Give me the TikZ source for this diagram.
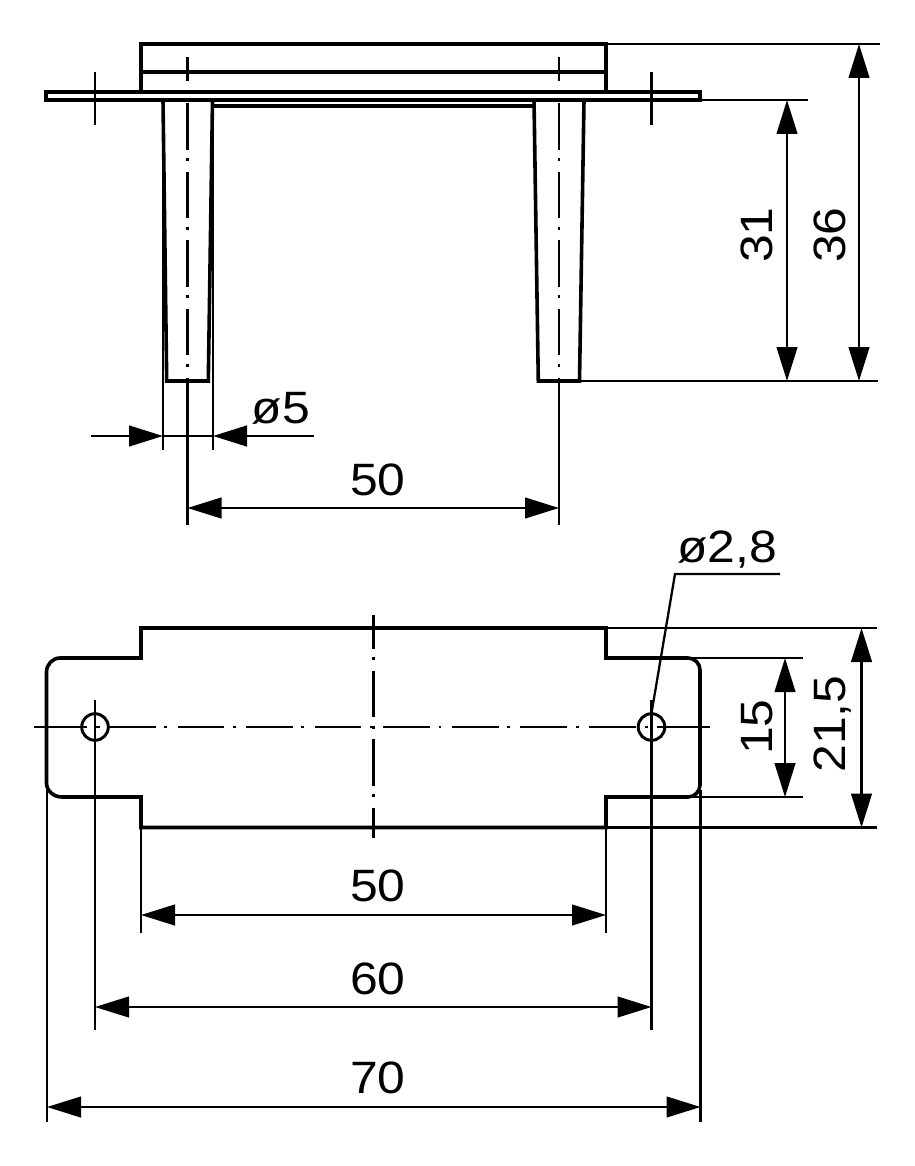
\documentclass[tikz,border=0pt]{standalone}
\usepackage{fontspec}
\setmainfont[FakeStretch=1.1]{Liberation Sans}
\usetikzlibrary{arrows.meta}
\tikzset{
	outline/.style={line width=2.7pt, line join=miter},
	thinline/.style={line width=1.7pt},
	centerline/.style={line width=1.7pt, dash pattern=on 35pt off 6.4pt on 2.2pt off 7.8pt},
	dimboth/.style={line width=1.7pt, {Triangle[length=25.5pt,width=15.5pt]}-{Triangle[length=25.5pt,width=15.5pt]}},
	dimone/.style={line width=1.7pt, -{Triangle[length=25.5pt,width=15.5pt]}},
	dimtext/.style={inner sep=0pt, font=\fontsize{34}{34}\selectfont},
}
\begin{document}
\begin{tikzpicture}[x=.75pt, y=-.75pt]
	\useasboundingbox (0,0) rectangle (914,1166);

	% upper view
	\draw[outline] (141,92) -- (141,44) -- (606,44) -- (606,92);
	\draw[outline] (141,72) -- (606,72);
	\draw[outline] (46,92) rectangle (700,100);
	\draw[outline] (213,106) -- (534,106);
	\draw[outline] (163,100) -- (166.7,381) -- (208.3,381) -- (212.5,100);
	\draw[outline] (534,100) -- (538.3,381) -- (579.5,381) -- (584,100);
	\draw[thinline] (95,72) -- (95,125);
	\draw[thinline] (651.5,72) -- (651.5,125);
	\draw[centerline, dash phase=16.9pt] (187.5,57) -- (187.5,368);
	\draw[centerline, dash phase=16.9pt] (559,57) -- (559,368);

	% lines out of the upper view
	\coordinate (topa) at (606,44);
	\coordinate (topb) at (880,44);
	\coordinate (flanga) at (700,100);
	\coordinate (flangb) at (808,100);
	\coordinate (pina) at (580,381);
	\coordinate (pinb) at (878,381);
	\draw[thinline] (topa) -- (topb);
	\draw[thinline] (flanga) -- (flangb);
	\draw[thinline] (pina) -- (pinb);
	\draw[thinline] (163,105) -- (163,450);
	\draw[thinline] (213,105) -- (213,450);
	\draw[thinline] (187.5,378) -- (187.5,525);
	\draw[thinline] (559,378) -- (559,525);

	% dimensions of the upper view
	\coordinate (leftd) at (163,436);
	\coordinate (rightd) at (213,436);
	\coordinate (leftfree) at (91,436);
	\coordinate (rightfree) at (314,436);
	\draw[dimone] (leftfree) -- (leftd);
	\draw[dimone] (rightfree) -- (rightd);
	\draw[thinline] (leftd) -- (rightd);
	\node[dimtext] (dfive) at (281,408) {ø5};
	\coordinate (pitcha) at (187.5,508);
	\coordinate (pitchb) at (559,508);
	\draw[dimboth] (pitcha) -- (pitchb);
	\node[dimtext] (fifty) at (378,480) {50};
	\coordinate (dima) at (787,100);
	\coordinate (dimb) at (787,381);
	\draw[dimboth] (dima) -- (dimb);
	\node[dimtext, rotate=90] (thirtyone) at (757,235) {31};
	\coordinate (dimc) at (859,44);
	\coordinate (dimd) at (859,381);
	\draw[dimboth] (dimc) -- (dimd);
	\node[dimtext, rotate=90] (thirtysix) at (830,235) {36};

	% lower view
	\draw[outline] (141,658) -- (141,628) -- (606,628) -- (606,658) -- (688,658)
		.. controls (694.6,658) and (700,663.4) .. (700,670) -- (700,785)
		.. controls (700,791.6) and (694.6,797) .. (688,797)
		-- (606,797) -- (606,827.5) -- (141,827.5) -- (141,797) -- (62,797)
		.. controls (53.5,797) and (46.5,790.7) .. (46.5,783) -- (46.5,672)
		.. controls (46.5,664.5) and (52.5,658) .. (60,658) -- cycle;
	\draw[line width=2.2pt] (95,727) circle (13.3);
	\draw[line width=2.2pt] (651.5,727) circle (13.3);
	\draw[centerline] (109.2,727) -- (636,727);
	\draw[thinline] (34,727) -- (87,727);
	\draw[thinline] (95,727) -- (100,727);
	\draw[thinline] (645,727) -- (648,727);
	\draw[thinline] (657,727) -- (710,727);
	\draw[centerline, dash phase=9.75pt] (373.5,615) -- (373.5,838);

	% lines out of the lower view
	\draw[thinline] (606,628) -- (877,628);
	\draw[thinline] (680,658) -- (803,658);
	\draw[thinline] (680,797) -- (803,797);
	\draw[thinline] (606,827.5) -- (877,827.5);
	\draw[thinline] (141,827.5) -- (141,933);
	\draw[thinline] (606,827.5) -- (606,933);
	\draw[thinline] (95,700) -- (95,1030);
	\draw[thinline] (651.5,700) -- (651.5,1030);
	\draw[thinline] (47,790) -- (47,1122);
	\draw[thinline] (700.5,790) -- (700.5,1122);

	% dimensions of the lower view
	\coordinate (holetip) at (651.5,713);
	\coordinate (holeknee) at (675,574);
	\coordinate (holeend) at (780,574);
	\draw[thinline] (holetip) -- (holeknee) -- (holeend);
	\node[dimtext] (dhole) at (727,550) {ø2,8};
	\coordinate (widtha) at (785,658);
	\coordinate (widthb) at (785,797);
	\draw[dimboth] (widtha) -- (widthb);
	\node[dimtext, rotate=90] (fifteen) at (757,727) {15};
	\coordinate (widthc) at (861.5,628);
	\coordinate (widthd) at (861.5,827.5);
	\draw[dimboth] (widthc) -- (widthd);
	\node[dimtext, rotate=90] (twentyone) at (833,724) {21,5};
	\coordinate (baseal) at (141,915);
	\coordinate (basear) at (606,915);
	\draw[dimboth] (baseal) -- (basear);
	\node[dimtext] (fiftyb) at (378,886) {50};
	\coordinate (basebl) at (95,1007);
	\coordinate (basebr) at (651.5,1007);
	\draw[dimboth] (basebl) -- (basebr);
	\node[dimtext] (sixty) at (378,979) {60};
	\coordinate (basecl) at (47,1107);
	\coordinate (basecr) at (700.5,1107);
	\draw[dimboth] (basecl) -- (basecr);
	\node[dimtext] (seventy) at (378,1078) {70};
\end{tikzpicture}
\end{document}
